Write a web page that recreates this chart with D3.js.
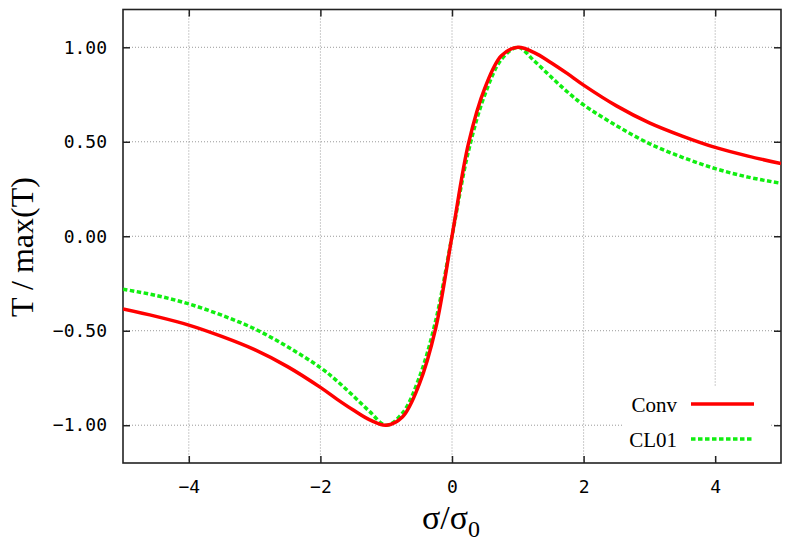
<!DOCTYPE html>
<html>
<head>
<meta charset="utf-8">
<script src="https://cdn.jsdelivr.net/npm/d3@7"></script>
<style>
  body { margin: 0; background: #fff; }
  svg { display: block; }
</style>
</head>
<body>
<div id="chart"></div>
<script>
// sigma / sigma_0 sample points
var sigma = [-5, -4.5, -4, -3.5, -3, -2.5, -2, -1.75, -1.5, -1.25, -1, -0.75, -0.5, -0.25,
             0, 0.25, 0.5, 0.75, 1, 1.25, 1.5, 1.75, 2, 2.5, 3, 3.5, 4, 4.5, 5];

// T / max(T)
var conv = [-0.385, -0.424, -0.47, -0.53, -0.60, -0.69, -0.80, -0.862, -0.92, -0.972, -1.00, -0.955, -0.785, -0.49,
            0, 0.49, 0.785, 0.955, 1.00, 0.972, 0.92, 0.862, 0.80, 0.69, 0.60, 0.53, 0.47, 0.424, 0.385];
var cl01 = [-0.28, -0.313, -0.358, -0.418, -0.49, -0.585, -0.695, -0.765, -0.845, -0.928, -1.00, -0.935, -0.75, -0.45,
            0, 0.45, 0.75, 0.935, 1.00, 0.928, 0.845, 0.765, 0.695, 0.585, 0.49, 0.418, 0.358, 0.313, 0.28];

var xTicks = [-4, -2, 0, 2, 4];
var yTicks = [-1, -0.5, 0, 0.5, 1];

var seriesNames = ["Conv", "CL01"];

var W = 789, H = 543;
var margin = { top: 9.5, right: 8, bottom: 80, left: 123 };
var width = 781 - margin.left,
    height = 463 - margin.top;

var svg = d3.select("#chart").append("svg")
    .attr("width", W)
    .attr("height", H);

var g = svg.append("g")
    .attr("transform", "translate(" + margin.left + "," + margin.top + ")");

var x = d3.scaleLinear().domain([-5, 5]).range([0, width]);
var y = d3.scaleLinear().domain([-1.2, 1.2]).range([height, 0]);

// grid
g.append("g").selectAll("line").data(xTicks).enter().append("line")
    .attr("x1", function(d) { return x(d); }).attr("x2", function(d) { return x(d); })
    .attr("y1", 0).attr("y2", height)
    .attr("stroke", "#999").attr("stroke-width", 1).attr("stroke-dasharray", "1,2");
g.append("g").selectAll("line").data(yTicks).enter().append("line")
    .attr("y1", function(d) { return y(d); }).attr("y2", function(d) { return y(d); })
    .attr("x1", 0).attr("x2", width)
    .attr("stroke", "#999").attr("stroke-width", 1).attr("stroke-dasharray", "1,2");

// legend background (hides the grid behind it)
g.append("rect")
    .attr("x", 623 - margin.left).attr("y", 386 - margin.top)
    .attr("width", 147).attr("height", 70)
    .attr("fill", "#fff");

// axes
var tickLen = 7;
var xAxis = g.append("g")
    .attr("transform", "translate(0," + height + ")")
    .call(d3.axisBottom(x).tickValues(xTicks).tickSizeInner(-tickLen).tickSizeOuter(0).tickPadding(17)
        .tickFormat(function(d) { return d3.format("d")(d).replace("-", "\u2212"); }));
xAxis.selectAll("text").attr("font-family", "DejaVu Sans Mono, monospace").attr("font-size", "18px").attr("fill", "#000");

var yAxis = g.append("g")
    .call(d3.axisLeft(y).tickValues(yTicks).tickSizeInner(-tickLen).tickSizeOuter(0).tickPadding(16)
        .tickFormat(function(d) { return d3.format(".2f")(d).replace("-", "\u2212"); }));
yAxis.selectAll("text").attr("font-family", "DejaVu Sans Mono, monospace").attr("font-size", "18px").attr("fill", "#000");

g.append("g").call(d3.axisTop(x).tickValues(xTicks).tickSizeInner(-tickLen).tickSizeOuter(0).tickFormat(""));
g.append("g").attr("transform", "translate(" + width + ",0)")
    .call(d3.axisRight(y).tickValues(yTicks).tickSizeInner(-tickLen).tickSizeOuter(0).tickFormat(""));

g.selectAll(".domain").remove();
g.selectAll(".tick line").attr("stroke", "#222").attr("stroke-width", 1.5);

g.append("rect")
    .attr("width", width).attr("height", height)
    .attr("fill", "none").attr("stroke", "#222").attr("stroke-width", 1.6);

// curves
svg.append("clipPath").attr("id", "clip").append("rect")
    .attr("width", width).attr("height", height);

var line = d3.line()
    .x(function(d) { return x(d[0]); })
    .y(function(d) { return y(d[1]); })
    .curve(d3.curveCatmullRom.alpha(0.5));

g.append("path")
    .datum(d3.zip(sigma, cl01))
    .attr("clip-path", "url(#clip)")
    .attr("d", line)
    .attr("fill", "none").attr("stroke", "#11ee11").attr("stroke-width", 3.5)
    .attr("stroke-dasharray", "4.5,2.5");

g.append("path")
    .datum(d3.zip(sigma, conv))
    .attr("clip-path", "url(#clip)")
    .attr("d", line)
    .attr("fill", "none").attr("stroke", "#ff0000").attr("stroke-width", 3.5);

// legend
var legend = svg.append("g");
var legY = [404, 439];
var legColors = ["#ff0000", "#11ee11"];
var legDash = [null, "4.5,2.5"];
seriesNames.forEach(function(name, i) {
    legend.append("text")
        .attr("x", 677).attr("y", legY[i] + 7.5)
        .attr("text-anchor", "end")
        .attr("font-family", "Liberation Serif, serif").attr("font-size", "21px")
        .text(name);
    legend.append("line")
        .attr("x1", 691).attr("x2", 754)
        .attr("y1", legY[i]).attr("y2", legY[i])
        .attr("stroke", legColors[i]).attr("stroke-width", 3.5)
        .attr("stroke-dasharray", legDash[i]);
});

// axis titles
svg.append("text")
    .attr("transform", "translate(33,247) rotate(-90)")
    .attr("text-anchor", "middle")
    .attr("font-family", "Liberation Serif, serif").attr("font-size", "32px")
    .text("T / max(T)");

var xl = svg.append("text")
    .attr("x", 451).attr("y", 529)
    .attr("text-anchor", "middle")
    .attr("font-family", "Liberation Serif, serif").attr("font-size", "34px");
xl.append("tspan").text("\u03c3/\u03c3");
xl.append("tspan").attr("dy", 8).attr("font-size", "24px").text("0");
</script>
</body>
</html>
